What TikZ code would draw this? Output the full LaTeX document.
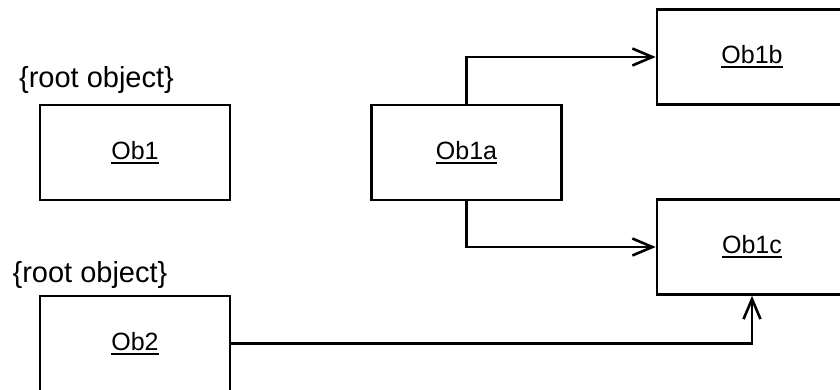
\documentclass[tikz,border=0pt]{standalone}
\usepackage{fontspec}
\setmainfont{Liberation Sans}
\usetikzlibrary{arrows.meta}
\newcommand{\obu}[1]{\setbox0=\hbox{#1}\leavevmode\rlap{\rule[-4.5pt]{\wd0}{2.2pt}}\box0}
\tikzset{
  obj/.style={draw, line width=2.6pt, minimum width=190pt, minimum height=95pt, inner sep=0pt,
    font=\fontsize{25}{30}\selectfont},
  roottext/.style={inner sep=0pt, font=\fontsize{29}{34}\selectfont},
  link/.style={line width=2.4pt, -{Straight Barb[length=20pt,width=17pt,line width=2.6pt]}}
}
\begin{document}
\begin{tikzpicture}[x=1pt,y=-1pt]
\useasboundingbox (0,0) rectangle (840,389);
\clip (0,0) rectangle (840,389);
\node[roottext] (r1) at (96.5,80) {\{root object\}};
\node[obj] (ob1) at (135,152.5) {\obu{Ob1}};
\node[roottext] (r2) at (90,275) {\{root object\}};
\node[obj] (ob2) at (135,343.5) {\obu{Ob2}};
\node[obj] (ob1a) at (466.5,152.5) {\obu{Ob1a}};
\node[obj] (ob1b) at (752,57) {\obu{Ob1b}};
\node[obj] (ob1c) at (752,247) {\obu{Ob1c}};
\draw[link] (ob1a.north) |- (ob1b.west);
\draw[link] (ob1a.south) |- (ob1c.west);
\draw[link] (ob2.east) -| (ob1c.south);
\end{tikzpicture}
\end{document}
